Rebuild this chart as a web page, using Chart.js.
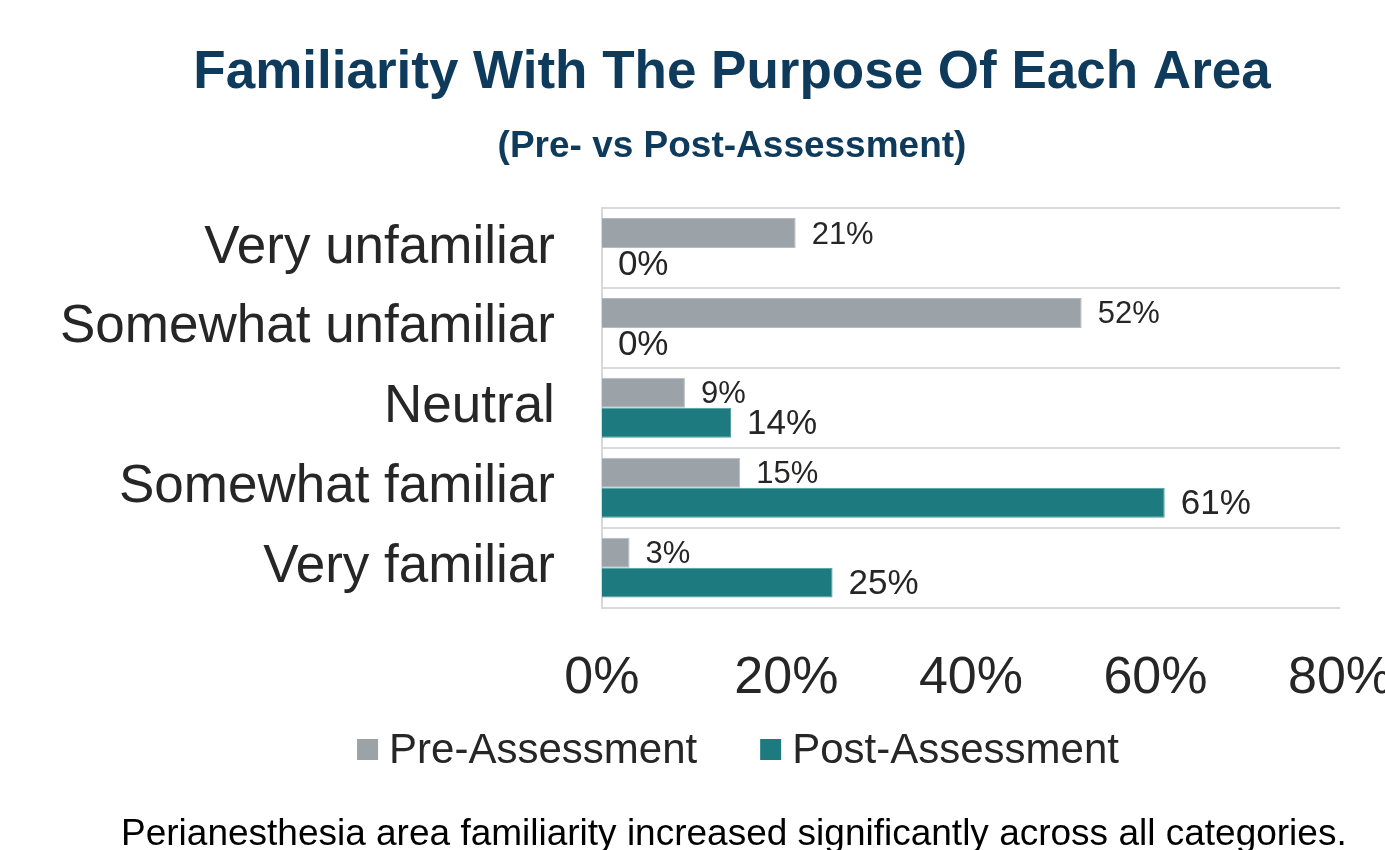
<!DOCTYPE html>
<html>
<head>
<meta charset="utf-8">
<script src="https://cdn.jsdelivr.net/npm/chart.js@4"></script>
<style>
  html, body { margin: 0; padding: 0; background: #fff; }
  #wrap { width: 1385px; height: 850px; position: relative; }
</style>
</head>
<body>
<div id="wrap"><canvas id="familiarityChart" width="1385" height="850"></canvas></div>
<script>
const TITLE    = "Familiarity With The Purpose Of Each Area";
const SUBTITLE = "(Pre- vs Post-Assessment)";
const FOOTNOTE = "Perianesthesia area familiarity increased significantly across all categories.";

const categories = ["Very unfamiliar", "Somewhat unfamiliar", "Neutral", "Somewhat familiar", "Very familiar"];
const preValues  = [21, 52, 9, 15, 3];
const postValues = [0, 0, 14, 61, 25];
const seriesNames = ["Pre-Assessment", "Post-Assessment"];
const xTicks = [0, 20, 40, 60, 80];

const GREY = "#9BA3A9";
const TEAL = "#1D7B80";
const NAVY = "#0E3A5C";
const TEXT = "#262626";
const FONT = "'Liberation Sans', Arial, sans-serif";

// value labels to the right of every bar
const barLabels = {
    id: 'barLabels',
    afterDatasetsDraw(chart) {
        const ctx = chart.ctx;
        ctx.save();
        ctx.fillStyle = TEXT;
        ctx.textAlign = 'left';
        ctx.textBaseline = 'middle';
        chart.data.datasets.forEach((ds, di) => {
            const meta = chart.getDatasetMeta(di);
            ctx.font = (di === 0 ? 31 : 35) + "px " + FONT;
            meta.data.forEach((bar, i) => {
                ctx.fillText(ds.data[i] + "%", bar.x + 16, bar.y + 2);
            });
        });
        ctx.restore();
    }
};

// titles, legend and footnote
const decorations = {
    id: 'decorations',
    afterDraw(chart) {
        const ctx = chart.ctx;
        ctx.save();
        ctx.textBaseline = 'alphabetic';
        ctx.textAlign = 'center';
        ctx.fillStyle = NAVY;
        ctx.font = "bold 53px " + FONT;
        ctx.fillText(TITLE, 732, 88);
        ctx.font = "bold 37px " + FONT;
        ctx.fillText(SUBTITLE, 732, 157);

        // legend
        ctx.font = "42px " + FONT;
        ctx.textAlign = 'left';
        ctx.textBaseline = 'middle';
        const box = 21, gapIn = 11, gapOut = 63;
        const widths = chart.data.datasets.map(ds => ctx.measureText(ds.label).width);
        const total = widths.reduce((a, w) => a + box + gapIn + w, 0) + gapOut;
        let x = 738 - total / 2;
        chart.data.datasets.forEach((ds, i) => {
            ctx.fillStyle = ds.backgroundColor;
            ctx.fillRect(x, 739, box, box);
            ctx.fillStyle = TEXT;
            ctx.fillText(ds.label, x + box + gapIn, 751);
            x += box + gapIn + widths[i] + gapOut;
        });

        ctx.fillStyle = "#000";
        ctx.font = "37px " + FONT;
        ctx.textBaseline = 'alphabetic';
        ctx.fillText(FOOTNOTE, 121, 845);
        ctx.restore();
    }
};

const ctx = document.getElementById('familiarityChart').getContext('2d');
new Chart(ctx, {
    type: 'bar',
    data: {
        labels: categories,
        datasets: [
            { label: seriesNames[0], data: preValues,  backgroundColor: GREY, borderColor: "#B4BBC0", borderWidth: 1 },
            { label: seriesNames[1], data: postValues, backgroundColor: TEAL, borderColor: "#4E9A9E", borderWidth: 1 }
        ]
    },
    options: {
        indexAxis: 'y',
        responsive: false,
        animation: false,
        events: [],
        categoryPercentage: 0.75,
        barPercentage: 1.0,
        layout: { padding: { top: 208, left: 13, right: 45, bottom: 100 } },
        plugins: {
            legend: { display: false },
            title: { display: false },
            tooltip: { enabled: false }
        },
        scales: {
            x: {
                min: 0,
                max: 80,
                afterBuildTicks: (scale) => { scale.ticks = xTicks.map(v => ({ value: v })); },
                afterFit: (scale) => { scale.paddingRight = 0; },
                grid: { display: false, drawTicks: false },
                border: { display: false },
                ticks: {
                    padding: 40,
                    color: TEXT,
                    font: { family: FONT, size: 52 },
                    callback: (v) => v + "%"
                }
            },
            y: {
                grid: { color: "#D9D9D9", lineWidth: 2, drawTicks: false },
                border: { display: true, color: "#D9D9D9", width: 2 },
                ticks: {
                    padding: 47,
                    color: TEXT,
                    font: { family: FONT, size: 53 }
                }
            }
        }
    },
    plugins: [barLabels, decorations]
});
</script>
</body>
</html>
